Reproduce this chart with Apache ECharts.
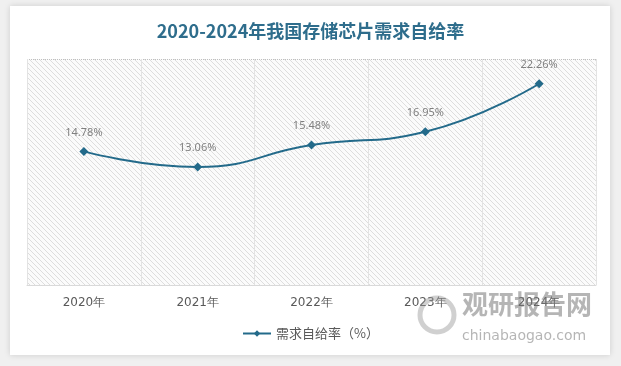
<!DOCTYPE html>
<html><head><meta charset="utf-8">
<script src="https://cdn.jsdelivr.net/npm/echarts@6/dist/echarts.min.js"></script>
<style>html,body{margin:0;padding:0;background:#f2f2f2;}#c{width:621px;height:366px;}</style>
</head><body><div id="c"></div>
<script>
var categories = ['2020年','2021年','2022年','2023年','2024年'];
var selfSufficiency = [14.78, 13.06, 15.48, 16.95, 22.26];
var seriesName = '需求自给率（%）';
var titleText = '2020-2024年我国存储芯片需求自给率';

var pc = document.createElement('canvas');
pc.width = 5; pc.height = 5;
var ctx = pc.getContext('2d');
ctx.fillStyle = '#fbfbfb'; ctx.fillRect(0,0,5,5);
ctx.strokeStyle = '#d6d6d6'; ctx.lineWidth = 0.8;
ctx.beginPath();
ctx.moveTo(0,0); ctx.lineTo(5,5);
ctx.moveTo(-2.5,2.5); ctx.lineTo(2.5,7.5);
ctx.moveTo(2.5,-2.5); ctx.lineTo(7.5,2.5);
ctx.stroke();

var chart = echarts.init(document.getElementById('c'));
chart.setOption({
  backgroundColor: '#f0f0f0',
  animation: false,
  graphic: [
    {type:'rect', shape:{x:10,y:6,width:600,height:349}, style:{fill:'#ffffff', shadowBlur:6, shadowColor:'rgba(0,0,0,0.15)'}, z:-10},
    {type:'circle', shape:{cx:437,cy:315,r:17}, style:{fill:'none', stroke:'rgba(150,150,150,0.45)', lineWidth:5}, z:100},
    {type:'text', left:462, top:291, style:{text:'观研报告网', font:'bold 26px "Noto Sans CJK SC"', fill:'rgba(120,120,120,0.55)'}, z:100},
    {type:'text', left:462, top:329, style:{text:'chinabaogao.com', font:'14px "DejaVu Sans"', fill:'rgba(120,120,120,0.55)'}, z:100}
  ],
  title: {text: titleText, left: 'center', top: 17,
    textStyle: {fontFamily:'"Noto Sans CJK SC"', fontSize: 18, fontWeight: 'bold', color: '#2e6d8c'}},
  grid: {left: 27, right: 25, top: 59, bottom: 81, show: true, borderWidth: 0,
    backgroundColor: {image: pc, repeat: 'repeat'}},
  legend: {bottom: 21, left: 'center', itemWidth: 28, itemHeight: 8, itemGap: 4,
    textStyle: {fontFamily:'"Noto Sans CJK SC"', fontSize: 13, color: '#595959'},
    data: [seriesName]},
  xAxis: {type: 'category', data: categories, boundaryGap: true,
    axisLine: {lineStyle: {color: '#d9d9d9'}}, axisTick: {show: false},
    axisLabel: {margin: 12, fontFamily:'"DejaVu Sans"', fontSize: 12, color: '#595959'},
    splitLine: {show: true, lineStyle: {color: '#e3e3e3'}}},
  yAxis: {type: 'value', min: 0, max: 25, interval: 25, show: true,
    axisLine: {show: false}, axisTick: {show: false}, axisLabel: {show: false},
    splitLine: {show: true, lineStyle: {color: '#bfbfbf', type: 'dotted'}}},
  series: [{
    name: seriesName, type: 'line', smooth: true, data: selfSufficiency,
    symbol: 'diamond', symbolSize: 9,
    lineStyle: {color: '#236a8a', width: 2},
    itemStyle: {color: '#236a8a'},
    label: {show: true, position: 'top', distance: 9, formatter: function(p){return p.value.toFixed(2)+'%';},
      fontFamily:'"Noto Sans"', fontSize: 11, color: '#808080'}
  }]
});
</script></body></html>
